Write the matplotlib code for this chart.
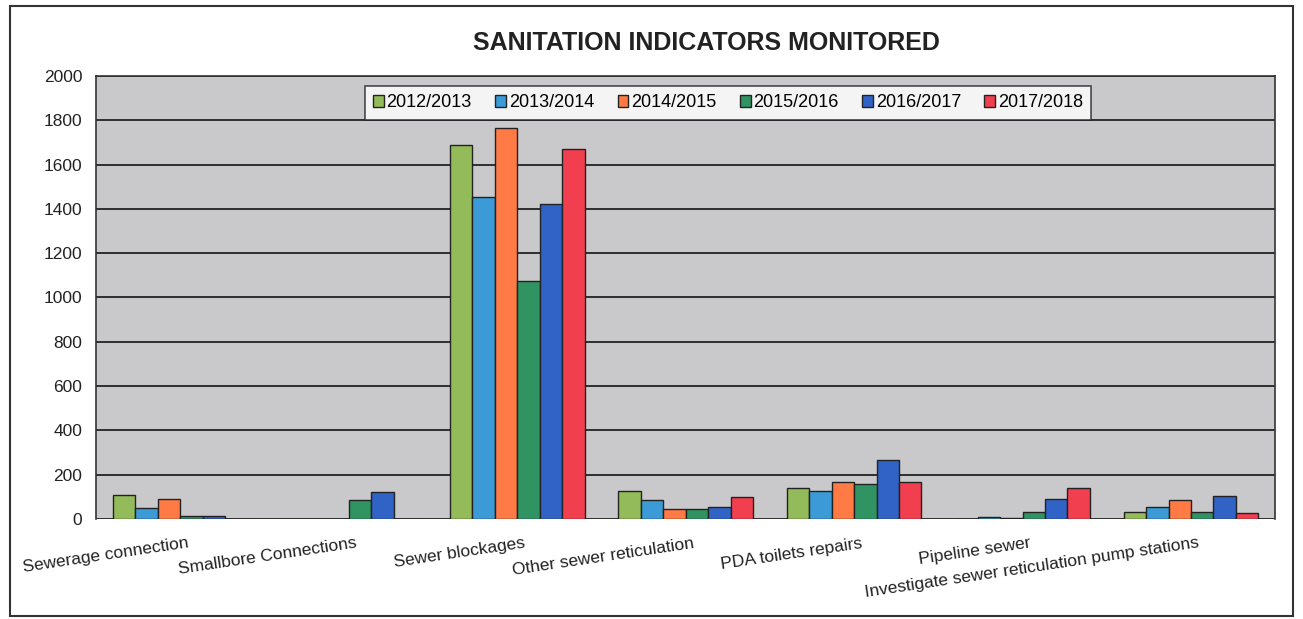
import numpy as np
import matplotlib.pyplot as plt
import matplotlib.transforms as mtransforms
from matplotlib.patches import Rectangle

plt.rcParams['font.family'] = ['Liberation Sans', 'DejaVu Sans']

categories = ['Sewerage connection', 'Smallbore Connections', 'Sewer blockages',
              'Other sewer reticulation', 'PDA toilets repairs', 'Pipeline sewer',
              'Investigate sewer reticulation pump stations']
years = ['2012/2013', '2013/2014', '2014/2015', '2015/2016', '2016/2017', '2017/2018']

v_2012 = [110, 0, 1690, 125, 140, 2, 30]
v_2013 = [50, 0, 1455, 85, 125, 10, 55]
v_2014 = [90, 0, 1765, 45, 165, 5, 85]
v_2015 = [15, 85, 1075, 45, 160, 30, 30]
v_2016 = [15, 120, 1420, 55, 265, 90, 105]
v_2017 = [0, 0, 1670, 100, 165, 140, 25]

series = [v_2012, v_2013, v_2014, v_2015, v_2016, v_2017]
colors = ['#93bb5a', '#3c9ad6', '#ff7a45', '#2f9462', '#3163c6', '#f23f4f']

fig = plt.figure(figsize=(13.03, 6.19), dpi=100)
ax = fig.add_axes([0.0737, 0.1616, 0.905, 0.7156])
ax.set_facecolor('#c9c9cb')

x = np.arange(len(categories))
w = 0.8 / len(series)
for i, (vals, c) in enumerate(zip(series, colors)):
    ax.bar(x - 0.4 + w * (i + 0.5), vals, width=w, color=c,
           edgecolor='#222222', linewidth=1.0, label=years[i], zorder=3)

ax.set_xlim(-0.5, len(categories) - 0.5)
ax.set_ylim(0, 2000)
ax.set_yticks(np.arange(0, 2001, 200))
ax.yaxis.grid(True, color='#222222', linewidth=1.3, zorder=1)
ax.set_axisbelow(True)
ax.tick_params(axis='y', length=0, labelsize=12.5, pad=10, colors='#222222')
ax.tick_params(axis='x', length=0, pad=12)
ax.set_xticks(x)
ax.set_xticklabels(categories, rotation=8.5, ha='right', va='top',
                   rotation_mode='anchor', fontsize=12.5, color='#222222')
shift = mtransforms.ScaledTranslation(7 / 100, 0, fig.dpi_scale_trans)
for lbl in ax.get_xticklabels():
    lbl.set_transform(lbl.get_transform() + shift)
for side in ['left', 'top', 'right']:
    ax.spines[side].set_color('#333333')
    ax.spines[side].set_linewidth(1.2)
ax.spines['bottom'].set_visible(False)

leg = ax.legend(loc='upper center', bbox_to_anchor=(0.536, 0.997), ncol=6,
                fontsize=13, frameon=True, fancybox=False, handlelength=0.6,
                handleheight=0.6, handletextpad=0.15, columnspacing=1.3,
                borderpad=0.45, edgecolor='#222222')
leg.get_frame().set_facecolor('white')
leg.get_frame().set_linewidth(1.2)
leg.set_zorder(5)

fig.text(0.542, 0.93, 'SANITATION INDICATORS MONITORED', ha='center', va='center',
         fontsize=18, fontweight='bold', color='#222222')

fig.patches.append(Rectangle((0.008, 0.005), 0.984, 0.985, transform=fig.transFigure,
                             fill=False, edgecolor='#333333', linewidth=1.5))

fig.savefig('out.png', dpi=100)
